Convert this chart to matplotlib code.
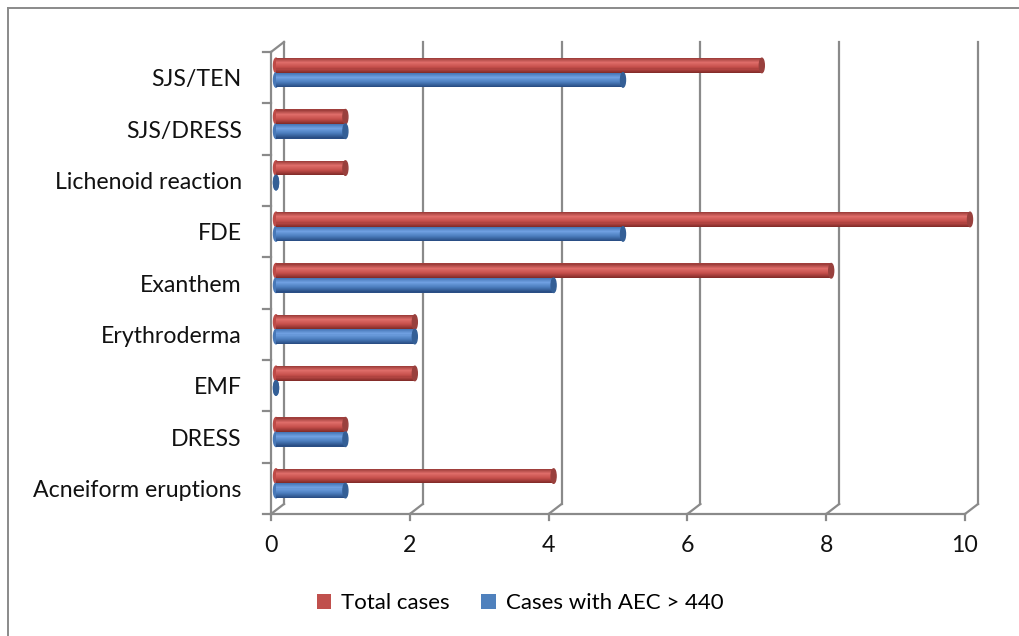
import matplotlib
matplotlib.use("Agg")
import matplotlib.pyplot as plt
import matplotlib.transforms as mtransforms
from matplotlib.lines import Line2D
from matplotlib.patches import Ellipse, Patch
import numpy as np

# Reaction types, bottom to top as they appear on the axis
categories = ["Acneiform eruptions", "DRESS", "EMF", "Erythroderma", "Exanthem",
              "FDE", "Lichenoid reaction", "SJS/DRESS", "SJS/TEN"]
total_cases = [4, 1, 2, 2, 8, 10, 1, 1, 7]
aec_cases = [1, 1, 0, 2, 4, 5, 0, 1, 5]
x_ticks = [0, 2, 4, 6, 8, 10]
series_names = ["Total cases", "Cases with AEC > 440"]

plt.rcParams["font.family"] = ["Lato", "DejaVu Sans"]

W, H = 1019, 636
fig = plt.figure(figsize=(W / 100, H / 100), dpi=100)

# front plane of the pseudo-3D box
ax = fig.add_axes([271 / W, 1 - 514 / H, (965 - 271) / W, (514 - 52) / H])
ax.set_xlim(0, 10)
ax.set_ylim(-0.5, len(categories) - 0.5)
for s in ax.spines.values():
    s.set_visible(False)

px_x = (965 - 271) / 10.0      # pixels per x unit
px_y = (514 - 52) / len(categories)
dx, dy = 13 / px_x, 10 / px_y  # depth of the box
ymin, ymax = -0.5, len(categories) - 0.5

GRID = "#8a8a8a"
lw = 1.6

# back wall gridlines + floor diagonals + tick marks
for t in x_ticks:
    ax.plot([t + dx, t + dx], [ymin + dy, ymax + dy], color=GRID, lw=lw, clip_on=False, zorder=1)
    ax.plot([t, t + dx], [ymin, ymin + dy], color=GRID, lw=lw, clip_on=False, zorder=1)
    ax.plot([t, t], [ymin - 6 / px_y, ymin], color=GRID, lw=lw, clip_on=False, zorder=1)

# front left axis, top diagonal, floor line
ax.plot([0, 0], [ymin, ymax], color=GRID, lw=lw, clip_on=False, zorder=1)
ax.plot([0, dx], [ymax, ymax + dy], color=GRID, lw=lw, clip_on=False, zorder=1)
ax.plot([0, 10], [ymin, ymin], color=GRID, lw=lw, clip_on=False, zorder=1)
for k in range(len(categories) + 1):
    ax.plot([-8 / px_x, 0], [ymin + k, ymin + k], color=GRID, lw=lw, clip_on=False, zorder=1)

# cylinders sit halfway into the box
mid = ax.transData + mtransforms.ScaledTranslation(5 / 100, 5 / 100, fig.dpi_scale_trans)


def shade(stops, n):
    pos = [p for p, _ in stops]
    cols = np.array([matplotlib.colors.to_rgb(c) for _, c in stops])
    f = np.linspace(0, 1, n)
    return [tuple(np.interp(v, pos, cols[:, i]) for i in range(3)) for v in f]


red_stops = [(0, "#a03f3c"), (0.3, "#df6d69"), (0.65, "#c64f4b"), (1, "#852d2a")]
blue_stops = [(0, "#4878b8"), (0.3, "#70a0e2"), (0.65, "#4c7ebe"), (1, "#2a4e85")]
red_cap, blue_cap = "#99403d", "#345f96"

bar_h = 14.5 / px_y
n = 14
y = np.arange(len(categories))


def cylinders(values, centers, stops, cap):
    cols = shade(stops, n)
    strip = bar_h / n
    for v, c in zip(values, centers):
        ax.add_patch(Ellipse((0, c), 5 / px_x, bar_h, color=cols[2 * n // 3],
                             transform=mid, zorder=2, clip_on=False))
        for i, col in enumerate(cols):
            yc = c + bar_h / 2 - strip * (i + 0.5)
            ax.barh(yc, v, height=strip * 1.05, left=0, color=col, lw=0,
                    transform=mid, zorder=3, clip_on=False)
        ax.add_patch(Ellipse((v, c), 5 / px_x, bar_h, color=cap,
                             transform=mid, zorder=4, clip_on=False))


cylinders(total_cases, y + bar_h / 2, red_stops, red_cap)
cylinders(aec_cases, y - bar_h / 2, blue_stops, blue_cap)

# labels
ax.set_yticks(y)
ax.set_yticklabels(categories, fontsize=16.7, color="#111111")
ax.set_xticks(x_ticks)
ax.set_xticklabels([str(t) for t in x_ticks], fontsize=16.7, color="#111111")
ax.tick_params(axis="y", length=0, pad=21)
ax.tick_params(axis="x", length=0, pad=15)

fig.legend(handles=[Patch(fc="#c0504d"), Patch(fc="#4f81bd")], labels=series_names,
           loc="center", bbox_to_anchor=(520 / W, 1 - 603 / H), ncol=2, frameon=False,
           handlelength=0.65, handleheight=0.65, handletextpad=0.45, columnspacing=1.4,
           fontsize=16)

# chart frame
fig.add_artist(Line2D([7.5 / W, 7.5 / W], [0, 1 - 8 / H], color=GRID, lw=1.4))
fig.add_artist(Line2D([7.5 / W, 1], [1 - 8 / H, 1 - 8 / H], color=GRID, lw=1.4))

fig.savefig("out.png", dpi=100)
